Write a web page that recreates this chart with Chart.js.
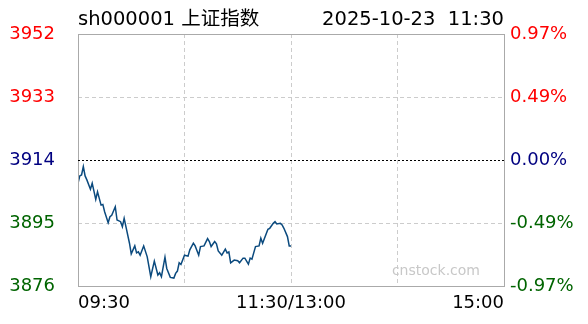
<!DOCTYPE html>
<html lang="zh">

<head>
    <meta charset="UTF-8">
    <title>sh000001 上证指数</title>
    <script src="https://cdn.jsdelivr.net/npm/chart.js"></script>
    <style>
        body {
            background-color: #ffffff;
            margin: 0;
            padding: 0;
        }

        canvas {
            display: block;
        }
    </style>
</head>

<body>
    <canvas id="minuteChart" width="588" height="324"></canvas>

    <script>
        const code = "sh000001 上证指数";
        const stamp = "2025-10-23  11:30";
        const prevClose = 3914;

        // minutes after 09:30 (morning session only, 0..120)
        const minutes = [0, 1, 2, 3, 4, 5, 7, 8, 10, 11, 13, 14, 15, 17, 18, 19, 21, 22, 24, 25, 26, 27, 29, 30, 32, 33, 34, 35, 37, 39,
            41, 43, 45, 46, 47, 49, 50, 52, 54, 55, 56, 57, 58, 60, 62, 63, 65, 66, 68, 69, 71, 73, 74, 75, 77, 78, 79, 81, 83, 84,
            85, 86, 88, 90, 91, 93, 94, 96, 97, 98, 100, 102, 103, 104, 107, 108, 110, 111, 112, 114, 115, 116, 118, 119, 120];
        const prices = [3907.0, 3909.2, 3909.5, 3912.0, 3909.2, 3908.0, 3905.2, 3907.0, 3902.1, 3904.4, 3900.4, 3900.6, 3898.4, 3895.1, 3896.9,
            3897.3, 3899.9, 3895.9, 3895.4, 3893.9, 3896.4, 3893.9, 3888.9, 3885.7, 3888.1, 3886.0, 3886.3, 3885.3, 3888.1, 3884.8,
            3878.8, 3883.5, 3879.3, 3880.0, 3878.8, 3884.7, 3881.3, 3878.6, 3878.4, 3879.8, 3880.5, 3883.0, 3882.5, 3885.3, 3885.0,
            3886.9, 3888.9, 3888.1, 3885.3, 3887.9, 3888.1, 3890.3, 3889.4, 3887.9, 3889.4, 3888.7, 3886.6, 3885.3, 3887.1, 3886.0,
            3886.3, 3883.0, 3883.8, 3883.6, 3883.0, 3884.4, 3884.4, 3882.6, 3884.4, 3884.1, 3887.9, 3888.1, 3890.4, 3888.9, 3893.1,
            3893.4, 3894.9, 3895.4, 3894.7, 3894.9, 3894.4, 3893.4, 3890.9, 3888.1, 3888.1];

        const priceTicks = [3876, 3895, 3914, 3933, 3952];
        const pctLabels = ['-0.97%', '-0.49%', '0.00%', '0.49%', '0.97%'];
        const tickColors = ['#006400', '#006400', '#000080', '#ff0000', '#ff0000'];
        const timeLabels = { 0: '09:30', 120: '11:30/13:00', 240: '15:00' };

        const FONT = "'DejaVu Sans', 'Noto Sans CJK SC', sans-serif";

        // frame, zero line, header and watermark
        const decor = {
            id: 'decor',
            afterDatasetsDraw(chart) {
                const { ctx, chartArea: a, scales } = chart;
                ctx.save();
                ctx.strokeStyle = '#aaaaaa';
                ctx.lineWidth = 1;
                ctx.strokeRect(a.left + 0.5, a.top + 0.5, a.right - a.left, a.bottom - a.top);

                const y0 = Math.round(scales.y.getPixelForValue(prevClose)) + 0.5;
                ctx.strokeStyle = '#000000';
                ctx.setLineDash([2, 2]);
                ctx.beginPath();
                ctx.moveTo(a.left, y0);
                ctx.lineTo(a.right, y0);
                ctx.stroke();
                ctx.setLineDash([]);

                ctx.fillStyle = '#000000';
                ctx.font = '19.5px ' + FONT;
                ctx.textBaseline = 'middle';
                ctx.textAlign = 'left';
                ctx.fillText(code, a.left, 20);
                ctx.textAlign = 'right';
                ctx.fillText(stamp, a.right, 20);

                ctx.fillStyle = '#c8c8c8';
                ctx.font = '14px ' + FONT;
                ctx.fillText('cnstock.com', a.right - 24, a.bottom - 15);
                ctx.restore();
            }
        };

        const ctx = document.getElementById('minuteChart').getContext('2d');

        new Chart(ctx, {
            type: 'line',
            data: {
                datasets: [{
                    data: minutes.map((m, i) => ({ x: m, y: prices[i] })),
                    borderColor: '#0b4a7e',
                    borderWidth: 1.5,
                    pointRadius: 0,
                    tension: 0,
                    yAxisID: 'y'
                }]
            },
            options: {
                responsive: false,
                animation: false,
                layout: { padding: { top: 34, left: 0, right: 0, bottom: 0 } },
                plugins: { legend: { display: false }, tooltip: { enabled: false } },
                scales: {
                    x: {
                        type: 'linear', min: 0, max: 240,
                        afterFit: s => { s.height = 38; },
                        afterBuildTicks: s => { s.ticks = [0, 60, 120, 180, 240].map(v => ({ value: v })); },
                        ticks: {
                            align: 'inner', padding: 7, maxRotation: 0, autoSkip: false,
                            color: '#000000', font: { family: FONT, size: 18 },
                            callback: v => timeLabels[v] || ''
                        },
                        grid: {
                            drawTicks: false,
                            color: c => (c.tick && (c.tick.value === 0 || c.tick.value === 240)) ? 'rgba(0,0,0,0)' : '#cccccc'
                        },
                        border: { display: false, dash: [4, 3] }
                    },
                    y: {
                        type: 'linear', position: 'left', min: 3876, max: 3952,
                        afterFit: s => { s.width = 78; },
                        afterBuildTicks: s => { s.ticks = priceTicks.map(v => ({ value: v })); },
                        ticks: {
                            padding: 23,
                            font: { family: FONT, size: 18 },
                            color: c => tickColors[c.index],
                            callback: v => String(v)
                        },
                        grid: {
                            drawTicks: false,
                            color: c => (c.tick && (c.tick.value === 3933 || c.tick.value === 3895)) ? '#cccccc' : 'rgba(0,0,0,0)'
                        },
                        border: { display: false, dash: [4, 3] }
                    },
                    y1: {
                        type: 'linear', position: 'right', min: 3876, max: 3952,
                        afterFit: s => { s.width = 84; },
                        afterBuildTicks: s => { s.ticks = priceTicks.map(v => ({ value: v })); },
                        ticks: {
                            padding: 6,
                            font: { family: FONT, size: 18 },
                            color: c => tickColors[c.index],
                            callback: (v, i) => pctLabels[i]
                        },
                        grid: { drawOnChartArea: false, drawTicks: false },
                        border: { display: false }
                    }
                }
            },
            plugins: [decor]
        });
    </script>
</body>

</html>
